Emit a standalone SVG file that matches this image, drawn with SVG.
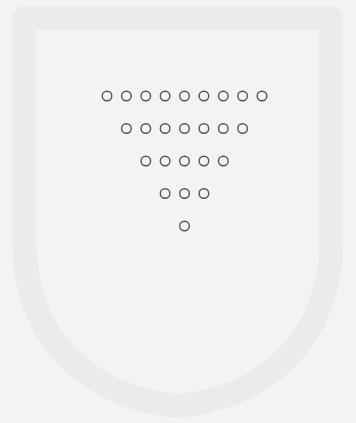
<svg xmlns="http://www.w3.org/2000/svg" width="356" height="423" viewBox="0 0 356 423">
<style>
.c{fill:none;stroke:#555;stroke-width:1.4}
</style>
<defs><circle id="o" r="4.8" class="c"/></defs>
<rect width="356" height="423" fill="#f3f3f1"/>
<path d="M24 18 H331 V240 C331 340 265 398 178 406 C91 398 24 340 24 240 Z" fill="none" stroke="#ebebe9" stroke-width="24" stroke-linejoin="round"/>
<g id="row1">
<use href="#o" x="107" y="96"/><use href="#o" x="126.4" y="96"/><use href="#o" x="145.8" y="96"/><use href="#o" x="165.1" y="96"/><use href="#o" x="184.5" y="96"/><use href="#o" x="203.9" y="96"/><use href="#o" x="223.3" y="96"/><use href="#o" x="242.6" y="96"/><use href="#o" x="262" y="96"/>
</g>
<g id="row2">
<use href="#o" x="126.4" y="128.5"/><use href="#o" x="145.8" y="128.5"/><use href="#o" x="165.1" y="128.5"/><use href="#o" x="184.5" y="128.5"/><use href="#o" x="203.9" y="128.5"/><use href="#o" x="223.3" y="128.5"/><use href="#o" x="242.6" y="128.5"/>
</g>
<g id="row3">
<use href="#o" x="145.8" y="161"/><use href="#o" x="165.1" y="161"/><use href="#o" x="184.5" y="161"/><use href="#o" x="203.9" y="161"/><use href="#o" x="223.3" y="161"/>
</g>
<g id="row4">
<use href="#o" x="165.1" y="193.5"/><use href="#o" x="184.5" y="193.5"/><use href="#o" x="203.9" y="193.5"/>
</g>
<g id="row5">
<use href="#o" x="184.5" y="226"/>
</g>
<g id="connectors"/>
</svg>
